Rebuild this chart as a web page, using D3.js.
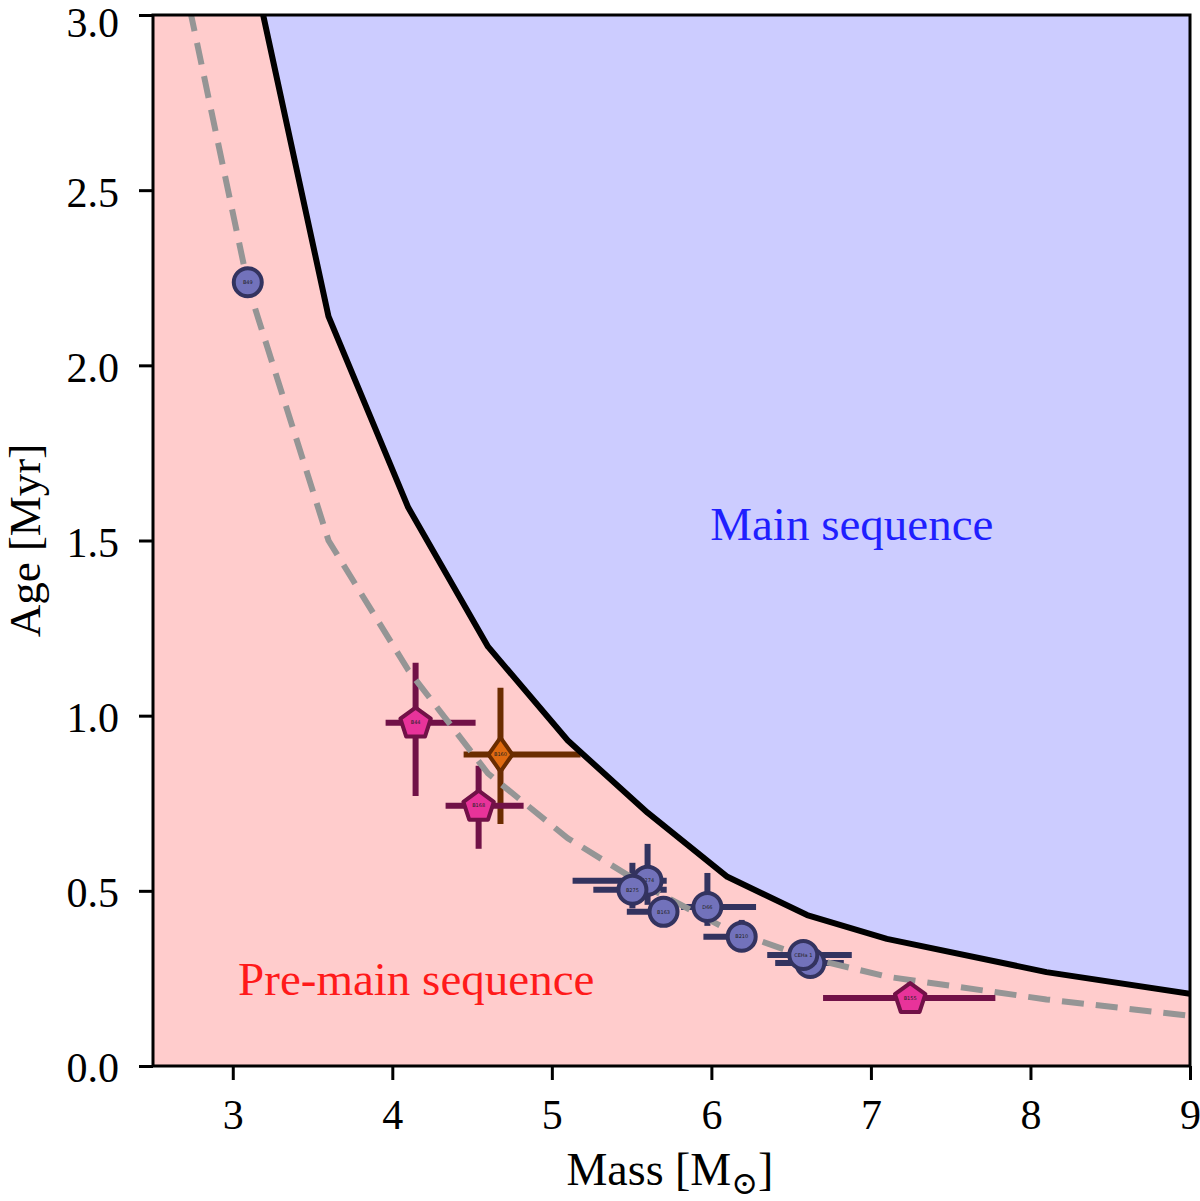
<!DOCTYPE html>
<html>
<head>
<meta charset="utf-8">
<script src="https://cdn.jsdelivr.net/npm/d3@7"></script>
<style>
  body { margin: 0; background: #fff; }
  text { font-family: "Liberation Serif", "DejaVu Serif", serif; }
</style>
</head>
<body>
<svg id="chart" width="1200" height="1201"></svg>
<script>
// main-sequence boundary (mass, age)
var msMass = [3.1, 3.6, 4.1, 4.6, 5.1, 5.6, 6.1, 6.6, 7.1, 8.1, 9.0]
var msAge  = [3.19, 2.14, 1.594, 1.197, 0.929, 0.723, 0.54, 0.431, 0.363, 0.268, 0.206]

// dashed isochrone-ish curve
var dashMass = [2.6, 3.1, 3.6, 4.1, 4.6, 5.1, 5.6, 6.1, 6.6, 7.1, 8.1, 9.0]
var dashAge  = [3.30, 2.22, 1.50, 1.13, 0.835, 0.65, 0.51, 0.39, 0.31, 0.255, 0.19, 0.143]

// stars
var starNames = ["B49", "B44", "B160", "B168", "B274", "B275", "B163", "D66", "B210", "B300", "CEHa 1", "B155"]
var starShape = ["circle", "pentagon", "diamond", "pentagon", "circle", "circle", "circle", "circle", "circle", "circle", "circle", "pentagon"]
var starMass  = [3.094, 4.146, 4.678, 4.541, 5.60, 5.505, 5.70, 5.975, 6.19, 6.62, 6.576, 7.246]
var massLo    = [3.094, 3.958, 4.447, 4.334, 5.13, 5.26, 5.47, 5.81, 5.95, 6.40, 6.35, 6.70]
var massHi    = [3.094, 4.522, 5.18, 4.823, 5.72, 5.72, 5.79, 6.28, 6.24, 6.83, 6.88, 7.78]
var starAge   = [2.237, 0.98, 0.889, 0.743, 0.529, 0.503, 0.44, 0.454, 0.369, 0.294, 0.317, 0.194]
var ageLo     = [2.237, 0.771, 0.691, 0.62, 0.46, 0.45, 0.44, 0.40, 0.34, 0.294, 0.317, 0.16]
var ageHi     = [2.237, 1.151, 1.08, 0.857, 0.634, 0.58, 0.44, 0.551, 0.417, 0.294, 0.317, 0.246]

var xTicks = [3, 4, 5, 6, 7, 8, 9]
var yTicks = [0.0, 0.5, 1.0, 1.5, 2.0, 2.5, 3.0]

var colors = {
  circle:   { fill: "#7272bb", edge: "#33335f" },
  pentagon: { fill: "#e8339a", edge: "#711147" },
  diamond:  { fill: "#e06a10", edge: "#6b2c00" }
}

var margin = {top: 15, right: 10, bottom: 135, left: 153},
    width  = 1200 - margin.left - margin.right,
    height = 1201 - margin.top - margin.bottom

var svg = d3.select("#chart")
var g = svg.append("g").attr("transform", "translate(" + margin.left + "," + margin.top + ")")

var x = d3.scaleLinear().domain([2.5, 9]).range([0, width])
var y = d3.scaleLinear().domain([0, 3]).range([height, 0])

svg.append("defs").append("clipPath").attr("id", "clip")
  .append("rect").attr("width", width).attr("height", height)

var plot = g.append("g").attr("clip-path", "url(#clip)")

// pink background (pre-main sequence)
plot.append("rect").attr("width", width).attr("height", height).attr("fill", "#ffcccc")

var msData = msMass.map((m, i) => ({m: m, a: msAge[i]}))
var dashData = dashMass.map((m, i) => ({m: m, a: dashAge[i]}))

// blue region above the boundary
var area = d3.area()
  .x(d => x(d.m))
  .y0(d => y(d.a))
  .y1(y(3.5))
plot.append("path").datum(msData).attr("fill", "#ccccff").attr("d", area)

var stars = starNames.map((n, i) => ({
  name: n, shape: starShape[i], m: starMass[i], a: starAge[i],
  mlo: massLo[i], mhi: massHi[i], alo: ageLo[i], ahi: ageHi[i]
}))

// error bars
var eb = plot.append("g")
stars.forEach(d => {
  var c = colors[d.shape].edge
  if (d.mhi > d.mlo)
    eb.append("line").attr("x1", x(d.mlo)).attr("x2", x(d.mhi))
      .attr("y1", y(d.a)).attr("y2", y(d.a))
      .attr("stroke", c).attr("stroke-width", 6)
  if (d.ahi > d.alo)
    eb.append("line").attr("x1", x(d.m)).attr("x2", x(d.m))
      .attr("y1", y(d.alo)).attr("y2", y(d.ahi))
      .attr("stroke", c).attr("stroke-width", 6)
})

var line = d3.line().x(d => x(d.m)).y(d => y(d.a))

plot.append("path").datum(dashData)
  .attr("fill", "none").attr("stroke", "#959595")
  .attr("stroke-width", 6).attr("stroke-dasharray", "22,12")
  .attr("d", line)

plot.append("path").datum(msData)
  .attr("fill", "none").attr("stroke", "#000")
  .attr("stroke-width", 6).attr("stroke-linejoin", "round")
  .attr("d", line)

function pentagonPath(r) {
  var pts = d3.range(5).map(k => {
    var ang = -Math.PI / 2 + k * 2 * Math.PI / 5
    return [r * Math.cos(ang), r * Math.sin(ang)]
  })
  return "M" + pts.map(p => p.join(",")).join("L") + "Z"
}

var mk = plot.append("g")
stars.forEach(d => {
  var c = colors[d.shape]
  var sg = mk.append("g").attr("transform", "translate(" + x(d.m) + "," + y(d.a) + ")")
  if (d.shape == "circle") {
    sg.append("circle").attr("r", 14).attr("fill", c.fill).attr("stroke", c.edge).attr("stroke-width", 4)
  } else if (d.shape == "pentagon") {
    sg.append("path").attr("d", pentagonPath(16)).attr("transform", "translate(0,1)")
      .attr("fill", c.fill).attr("stroke", c.edge).attr("stroke-width", 4).attr("stroke-linejoin", "round")
  } else {
    sg.append("path").attr("d", "M0,-17L12,0L0,17L-12,0Z")
      .attr("fill", c.fill).attr("stroke", c.edge).attr("stroke-width", 4).attr("stroke-linejoin", "round")
  }
  sg.append("text").attr("text-anchor", "middle").attr("dy", "0.35em")
    .style("font-family", "DejaVu Sans").style("font-size", "5px")
    .attr("fill", "#222").text(d.name)
})

// region labels
plot.append("text").attr("x", x(6.88)).attr("y", 525)
  .attr("text-anchor", "middle").attr("fill", "#1f1fff")
  .style("font-size", "47px").text("Main sequence")
plot.append("text").attr("x", x(4.15)).attr("y", 980)
  .attr("text-anchor", "middle").attr("fill", "#ff1a1a")
  .style("font-size", "47px").text("Pre-main sequence")

// axes
var xAxis = g.append("g").attr("transform", "translate(0," + height + ")")
  .call(d3.axisBottom(x).tickValues(xTicks).tickFormat(d3.format("d")).tickSize(14).tickPadding(12))
var yAxis = g.append("g")
  .call(d3.axisLeft(y).tickValues(yTicks).tickFormat(d3.format(".1f")).tickSize(14).tickPadding(20))

;[xAxis, yAxis].forEach(a => {
  a.select(".domain").remove()
  a.selectAll("line").attr("stroke", "#000").attr("stroke-width", 3)
  a.selectAll("text").style("font-family", "Liberation Serif, serif").style("font-size", "42px").attr("fill", "#000")
})
xAxis.selectAll("text").attr("dy", "0.87em")
// top label sits at the very edge of the page; nudge it down so it stays whole
yAxis.selectAll("text").attr("dy", d => d == 3 ? "0.52em" : "0.38em")

g.append("rect").attr("width", width).attr("height", height)
  .attr("fill", "none").attr("stroke", "#000").attr("stroke-width", 3)

// axis titles
var xt = svg.append("text").attr("x", margin.left + x(5.74)).attr("y", 1185)
  .attr("text-anchor", "middle").style("font-size", "46px")
xt.append("tspan").text("Mass [M")
xt.append("tspan").attr("dy", 9).style("font-size", "32px").text("\u2299")
xt.append("tspan").attr("dy", -9).text("]")

svg.append("text")
  .attr("transform", "translate(40," + (margin.top + y(1.5)) + ") rotate(-90)")
  .attr("text-anchor", "middle").style("font-size", "45px").text("Age [Myr]")
</script>
</body>
</html>
